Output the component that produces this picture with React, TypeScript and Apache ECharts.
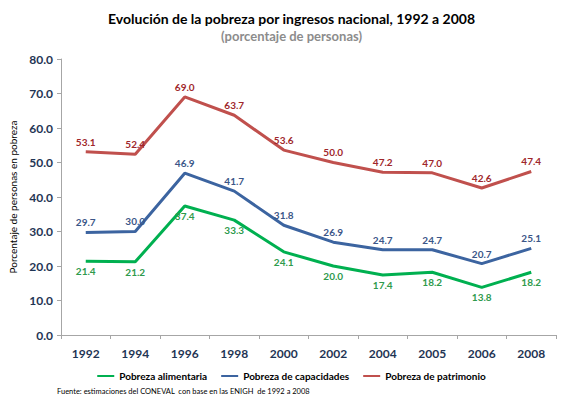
import React, { useEffect, useRef } from 'react'
import * as echarts from 'echarts'

const years = ['1992', '1994', '1996', '1998', '2000', '2002', '2004', '2005', '2006', '2008']
const alimentaria = [21.4, 21.2, 37.4, 33.3, 24.1, 20.0, 17.4, 18.2, 13.8, 18.2]
const capacidades = [29.7, 30.0, 46.9, 41.7, 31.8, 26.9, 24.7, 24.7, 20.7, 25.1]
const patrimonio = [53.1, 52.4, 69.0, 63.7, 53.6, 50.0, 47.2, 47.0, 42.6, 47.4]

const FONT = 'Lato, "Open Sans", sans-serif'
const NAVY = '#1f3554'

const makeSeries = (name: string, data: number[], color: string, labelColor: string, pos: string) => ({
  name,
  type: 'line',
  data,
  showSymbol: true,
  symbol: 'circle',
  symbolSize: 0.1,
  lineStyle: { color, width: 3 },
  itemStyle: { color },
  label: {
    show: true,
    position: pos,
    distance: 5,
    color: labelColor,
    fontSize: 10,
    fontWeight: 'bold',
    fontFamily: FONT,
    formatter: (p: any) => Number(p.value).toFixed(1)
  }
})

const App: React.FC = () => {
  const chartRef = useRef<HTMLDivElement>(null)

  useEffect(() => {
    if (!chartRef.current) return
    const chart = echarts.init(chartRef.current, undefined, { renderer: 'svg' })

    const option = {
      animation: false,
      backgroundColor: '#ffffff',
      title: [
        {
          text: 'Evolución de la pobreza por ingresos nacional, 1992 a 2008',
          left: 'center',
          top: 6,
          textStyle: { fontFamily: FONT, fontSize: 14, fontWeight: 'bold', color: '#000000' }
        },
        {
          text: '(porcentaje de personas)',
          left: 'center',
          top: 24,
          textStyle: { fontFamily: FONT, fontSize: 13, fontWeight: 'bold', color: '#8c8c8c' }
        }
      ],
      legend: {
        top: 366,
        left: 'center',
        icon: 'rect',
        itemWidth: 17,
        itemHeight: 2,
        itemGap: 14,
        textStyle: { fontFamily: FONT, fontSize: 10, fontWeight: 'bold', color: '#000000' },
        data: ['Pobreza alimentaria', 'Pobreza de capacidades', 'Pobreza de patrimonio']
      },
      grid: { left: 61, right: 27, top: 59, bottom: 66 },
      xAxis: {
        type: 'category',
        data: years,
        boundaryGap: true,
        axisLine: { lineStyle: { color: '#a6a6a6' } },
        axisTick: { show: true, length: 4, lineStyle: { color: '#a6a6a6' } },
        axisLabel: { margin: 12, fontFamily: FONT, fontSize: 12, fontWeight: 'bold', color: NAVY }
      },
      yAxis: {
        type: 'value',
        min: 0,
        max: 80,
        interval: 10,
        name: 'Porcentaje de personas en pobreza',
        nameLocation: 'middle',
        nameGap: 40,
        nameTextStyle: { fontFamily: FONT, fontSize: 10, color: '#000000' },
        axisLine: { show: true, lineStyle: { color: '#a6a6a6' } },
        axisTick: { show: true, length: 4, lineStyle: { color: '#a6a6a6' } },
        splitLine: { show: false },
        axisLabel: {
          margin: 8,
          fontFamily: FONT,
          fontSize: 12,
          fontWeight: 'bold',
          color: NAVY,
          formatter: (v: number) => v.toFixed(1)
        }
      },
      graphic: [
        {
          type: 'text',
          left: 57,
          top: 387,
          style: {
            text: 'Fuente: estimaciones del CONEVAL  con base en las ENIGH  de 1992 a 2008',
            fontFamily: FONT,
            fontSize: 7.5,
            fill: '#000000'
          }
        }
      ],
      series: [
        makeSeries('Pobreza alimentaria', alimentaria, '#00b050', '#2e9a4c', 'bottom'),
        makeSeries('Pobreza de capacidades', capacidades, '#3c64a0', '#3b5688', 'top'),
        makeSeries('Pobreza de patrimonio', patrimonio, '#c0504d', '#a0272b', 'top')
      ]
    }

    chart.setOption(option)
    return () => {
      chart.dispose()
    }
  }, [])

  return (
    <div
      ref={chartRef}
      style={{ position: 'fixed', left: 0, top: 0, width: '583px', height: '401px' }}
    />
  )
}

export default App
